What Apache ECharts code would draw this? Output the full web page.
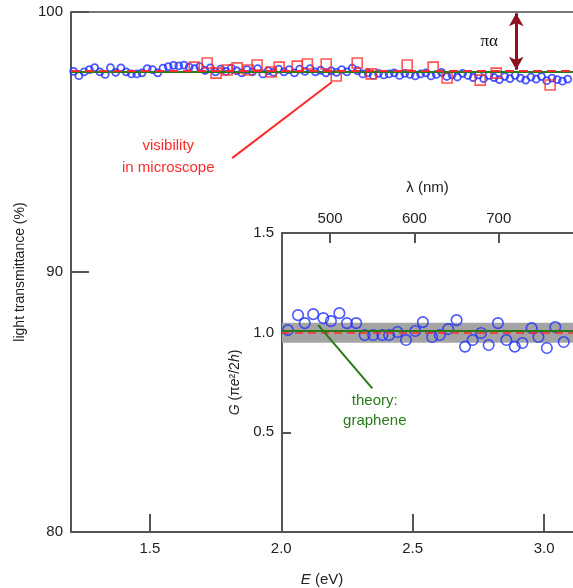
<!DOCTYPE html>
<html>
<head>
<meta charset="utf-8">
<script src="https://cdn.jsdelivr.net/npm/echarts@6/dist/echarts.min.js"></script>
<style>
  html, body { margin: 0; background: #fff; }
  #chart { width: 573px; height: 588px; }
</style>
</head>
<body>
<div id="chart"></div>
<script>
// main panel: transmittance vs photon energy
const circleE = [1.21, 1.23, 1.25, 1.27, 1.29, 1.31, 1.33, 1.35, 1.37, 1.39, 1.41, 1.43, 1.45, 1.47, 1.49,
  1.51, 1.53, 1.55, 1.57, 1.59, 1.61, 1.63, 1.65, 1.67, 1.69, 1.71, 1.73, 1.75, 1.77, 1.79,
  1.81, 1.83, 1.85, 1.87, 1.89, 1.91, 1.93, 1.95, 1.97, 1.99, 2.01, 2.03, 2.05, 2.07, 2.09,
  2.11, 2.13, 2.15, 2.17, 2.19, 2.21, 2.23, 2.25, 2.27, 2.29, 2.31, 2.33, 2.35, 2.37, 2.39,
  2.41, 2.43, 2.45, 2.47, 2.49, 2.51, 2.53, 2.55, 2.57, 2.59, 2.61, 2.63, 2.65, 2.67, 2.69,
  2.71, 2.73, 2.75, 2.77, 2.79, 2.81, 2.83, 2.85, 2.87, 2.89, 2.91, 2.93, 2.95, 2.97, 2.99,
  3.01, 3.03, 3.05, 3.07, 3.09];
const circleT = [97.72, 97.55, 97.70, 97.78, 97.86, 97.70, 97.60, 97.86, 97.68, 97.85, 97.70, 97.62, 97.62, 97.66, 97.82,
  97.78, 97.66, 97.84, 97.90, 97.95, 97.93, 97.96, 97.88, 97.82, 97.90, 97.75, 97.85, 97.70, 97.80, 97.72,
  97.84, 97.74, 97.66, 97.78, 97.70, 97.82, 97.62, 97.74, 97.68, 97.80, 97.70, 97.78, 97.66, 97.80, 97.72,
  97.82, 97.70, 97.76, 97.66, 97.74, 97.68, 97.78, 97.70, 97.84, 97.74, 97.62, 97.66, 97.56, 97.64, 97.58,
  97.62, 97.66, 97.56, 97.64, 97.60, 97.54, 97.62, 97.66, 97.54, 97.60, 97.68, 97.52, 97.58, 97.50, 97.64,
  97.56, 97.48, 97.58, 97.44, 97.56, 97.48, 97.40, 97.52, 97.44, 97.56, 97.46, 97.38, 97.50, 97.42, 97.52,
  97.36, 97.46, 97.40, 97.34, 97.42];

const squareE = [1.669, 1.718, 1.752, 1.794, 1.832, 1.874, 1.908, 1.962, 1.992, 2.061, 2.099,
  2.171, 2.209, 2.289, 2.342, 2.479, 2.578, 2.631, 2.757, 2.818, 3.023];
const squareT = [97.88, 98.04, 97.65, 97.77, 97.85, 97.77, 97.96, 97.69, 97.88, 97.92, 98.00,
  98.00, 97.54, 98.04, 97.62, 97.96, 97.88, 97.46, 97.38, 97.65, 97.19];

const xTicks = [1.5, 2.0, 2.5, 3.0];
const tTicks = [80, 90, 100];
const refLevel = 97.75;     // red dashed
const theoryLevel = 97.70;  // green

// inset: conductivity vs wavelength
const insetLambda = [450, 462, 470, 480, 492, 501, 511, 520, 531, 541, 551, 562, 570, 580, 590, 601, 610,
  621, 630, 640, 650, 660, 669, 679, 688, 699, 709, 719, 728, 739, 747, 757, 767, 777];
const insetG = [1.013, 1.088, 1.048, 1.093, 1.073, 1.058, 1.098, 1.048, 1.048, 0.988, 0.988, 0.988, 0.988,
  1.003, 0.963, 1.008, 1.053, 0.978, 0.988, 1.018, 1.063, 0.930, 0.963, 0.998, 0.938, 1.048, 0.963, 0.930,
  0.948, 1.023, 0.978, 0.923, 1.028, 0.953];
const lambdaTicks = [500, 600, 700];
const gBand = [0.95, 1.05];
const gTheory = 1.015;
const gRef = 1.0;

const BLUE = '#2030ff';
const RED = '#ff2a2a';
const GREEN = '#2a7a1a';
const AXIS = '#555';
const FONT = 'Liberation Sans, Arial, sans-serif';

const axisLine = { show: true, onZero: false, lineStyle: { color: AXIS, width: 2 } };
const tickStyle = { color: AXIS, width: 2 };
const labelBase = { fontSize: 15, color: '#222', fontFamily: FONT };

const chart = echarts.init(document.getElementById('chart'));

chart.setOption({
  animation: false,
  grid: [
    { left: 71, top: 12, right: 0, bottom: 56, outerBoundsMode: 'none', containLabel: false },
    { left: 282, top: 233, right: 0, bottom: 56, outerBoundsMode: 'none', containLabel: false }
  ],
  xAxis: [
    {
      type: 'value', gridIndex: 0, min: 1.2, max: 3.11, position: 'bottom',
      axisLine: axisLine,
      axisTick: { show: true, inside: true, length: 18, customValues: xTicks, lineStyle: tickStyle },
      axisLabel: Object.assign({ customValues: xTicks, margin: 9, formatter: v => v.toFixed(1) }, labelBase),
      splitLine: { show: false },
      name: '{i|E} (eV)', nameLocation: 'middle', nameGap: 40,
      nameTextStyle: { fontSize: 15, color: '#222', fontFamily: FONT, rich: { i: { fontStyle: 'italic', fontSize: 15, fontFamily: FONT } } }
    },
    {
      type: 'value', gridIndex: 0, min: 1.2, max: 3.11, position: 'top',
      axisLine: { show: true, onZero: false, lineStyle: { color: '#777', width: 2 } },
      axisTick: { show: false }, axisLabel: { show: false }, splitLine: { show: false }
    },
    {
      type: 'value', gridIndex: 1, min: 443, max: 788, position: 'top',
      axisLine: axisLine,
      axisTick: { show: true, inside: true, length: 10, customValues: lambdaTicks, lineStyle: tickStyle },
      axisLabel: Object.assign({ customValues: lambdaTicks, margin: 7 }, labelBase),
      splitLine: { show: false },
      name: 'λ (nm)', nameLocation: 'middle', nameGap: 38,
      nameTextStyle: { fontSize: 15, color: '#222', fontFamily: FONT }
    }
  ],
  yAxis: [
    {
      type: 'value', gridIndex: 0, min: 80, max: 100, interval: 10,
      axisLine: axisLine,
      axisTick: { show: true, inside: true, length: 18, lineStyle: tickStyle },
      axisLabel: Object.assign({ margin: 8, formatter: v => (tTicks.indexOf(v) >= 0 ? String(v) : '') }, labelBase),
      splitLine: { show: false },
      name: 'light transmittance (%)', nameLocation: 'middle', nameGap: 44,
      nameTextStyle: { fontSize: 14, color: '#222', fontFamily: FONT }
    },
    {
      type: 'value', gridIndex: 1, min: 0, max: 1.5, interval: 0.5,
      axisLine: axisLine,
      axisTick: { show: true, inside: true, length: 9, lineStyle: tickStyle },
      axisLabel: Object.assign({ margin: 8, formatter: v => (v === 0 ? '' : v.toFixed(1)) }, labelBase),
      splitLine: { show: false },
      name: '{i|G} (π{i|e}²/2{i|h})', nameLocation: 'middle', nameGap: 40,
      nameTextStyle: { fontSize: 14, color: '#222', fontFamily: FONT, rich: { i: { fontStyle: 'italic', fontSize: 14, fontFamily: FONT } } }
    }
  ],
  series: [
    {
      type: 'scatter', xAxisIndex: 0, yAxisIndex: 0,
      data: circleE.map((e, i) => [e, circleT[i]]),
      symbol: 'circle', symbolSize: 7, z: 3,
      itemStyle: { color: 'rgba(0,0,0,0)', borderColor: BLUE, borderWidth: 1.8 },
      markLine: {
        silent: true, symbol: 'none', label: { show: false },
        data: [
          { yAxis: theoryLevel, lineStyle: { color: GREEN, width: 2, type: 'solid' } },
          { yAxis: refLevel, lineStyle: { color: RED, width: 2, type: [9, 5] } },
          [
            { coord: [1.813, 94.38], lineStyle: { color: RED, width: 2, type: 'solid' } },
            { coord: [2.193, 97.31] }
          ],
          [
            { coord: [2.894, 99.95], symbol: 'arrow', symbolSize: [11, 13], lineStyle: { color: '#8c1020', width: 3, type: 'solid' } },
            { coord: [2.894, 97.78], symbol: 'arrow', symbolSize: [11, 13] }
          ]
        ]
      },
      markPoint: {
        silent: true, symbol: 'circle', symbolSize: 0,
        data: [
          {
            coord: [1.570, 94.42],
            label: { show: true, position: 'inside', formatter: 'visibility\nin microscope', color: RED, fontSize: 15, lineHeight: 22, fontFamily: FONT }
          },
          {
            coord: [2.791, 98.85],
            label: { show: true, position: 'inside', formatter: 'πα', color: '#111', fontSize: 17, fontFamily: 'Liberation Serif, DejaVu Serif, serif' }
          }
        ]
      }
    },
    {
      type: 'scatter', xAxisIndex: 0, yAxisIndex: 0,
      data: squareE.map((e, i) => [e, squareT[i]]),
      symbol: 'rect', symbolSize: 10, z: 4,
      itemStyle: { color: 'rgba(0,0,0,0)', borderColor: RED, borderWidth: 1.6 }
    },
    {
      type: 'scatter', xAxisIndex: 2, yAxisIndex: 1,
      data: insetLambda.map((l, i) => [l, insetG[i]]),
      symbol: 'circle', symbolSize: 10.5, z: 4,
      itemStyle: { color: 'rgba(0,0,0,0)', borderColor: BLUE, borderWidth: 1.6 },
      markArea: {
        silent: true,
        itemStyle: { color: '#a4a4a4' },
        data: [[{ yAxis: gBand[0] }, { yAxis: gBand[1] }]]
      },
      markLine: {
        silent: true, symbol: 'none', label: { show: false },
        data: [
          { yAxis: gRef, lineStyle: { color: RED, width: 1.5, type: [8, 5] } },
          { yAxis: gTheory, lineStyle: { color: GREEN, width: 2, type: 'solid' } },
          [
            { coord: [486, 1.038], lineStyle: { color: GREEN, width: 2, type: 'solid' } },
            { coord: [550, 0.721] }
          ]
        ]
      },
      markPoint: {
        silent: true, symbol: 'circle', symbolSize: 0,
        data: [
          {
            coord: [553, 0.606],
            label: { show: true, position: 'inside', formatter: 'theory:\ngraphene', color: GREEN, fontSize: 15, lineHeight: 20, fontFamily: FONT }
          }
        ]
      }
    }
  ]
});
</script>
</body>
</html>
